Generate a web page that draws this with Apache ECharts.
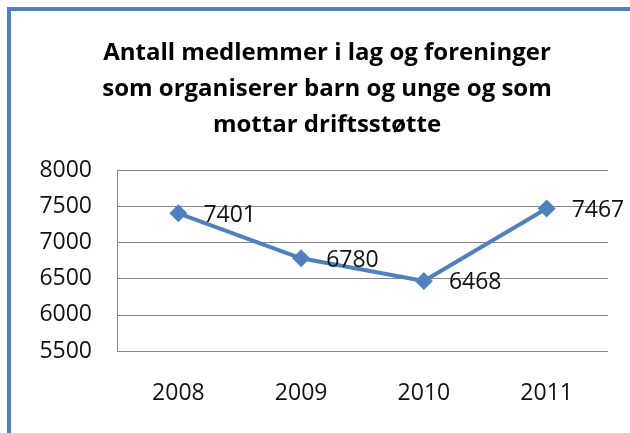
<!DOCTYPE html>
<html>
<head>
<meta charset="utf-8">
<script src="https://cdn.jsdelivr.net/npm/echarts@6/dist/echarts.min.js"></script>
<style>
  html, body { margin: 0; padding: 0; background: #fff; }
  #main { width: 630px; height: 433px; }
</style>
</head>
<body>
<div id="main"></div>
<script>
var years = ['2008', '2009', '2010', '2011'];
var members = [7401, 6780, 6468, 7467];
var titleText = 'Antall medlemmer i lag og foreninger\nsom organiserer barn og unge og som\nmottar driftsstøtte';

var chart = echarts.init(document.getElementById('main'));
chart.setOption({
  animation: false,
  backgroundColor: '#fff',
  textStyle: { fontFamily: 'Open Sans' },
  title: {
    text: titleText,
    left: 322,
    textAlign: 'center',
    top: 30,
    textStyle: { fontFamily: 'Open Sans', fontWeight: 'bold', fontSize: 24, lineHeight: 36, color: '#000' }
  },
  graphic: [{
    type: 'rect',
    shape: { x: 9, y: 9, width: 800, height: 600 },
    style: { fill: 'none', stroke: '#4F81BD', lineWidth: 4 },
    silent: true
  }],
  grid: { left: 117, right: 22, top: 170, bottom: 82 },
  xAxis: {
    type: 'category',
    data: years,
    boundaryGap: true,
    axisLine: { show: false },
    axisTick: { show: false },
    axisLabel: { fontSize: 23, color: '#111', margin: 31 }
  },
  yAxis: {
    type: 'value',
    min: 5500,
    max: 8000,
    interval: 500,
    axisLine: { show: true, lineStyle: { color: '#868686', width: 1 } },
    axisTick: { show: false },
    axisLabel: { fontSize: 23, color: '#111', margin: 25, formatter: function (v) { return String(v); } },
    splitLine: { lineStyle: { color: '#868686', width: 1 } }
  },
  series: [{
    type: 'line',
    data: members,
    symbol: 'diamond',
    symbolSize: 18,
    itemStyle: { color: '#4F81BD' },
    lineStyle: { color: '#4F81BD', width: 4 },
    label: {
      show: true,
      position: 'right',
      distance: 16,
      offset: [0, 2],
      fontSize: 23,
      color: '#111'
    }
  }]
});
</script>
</body>
</html>
